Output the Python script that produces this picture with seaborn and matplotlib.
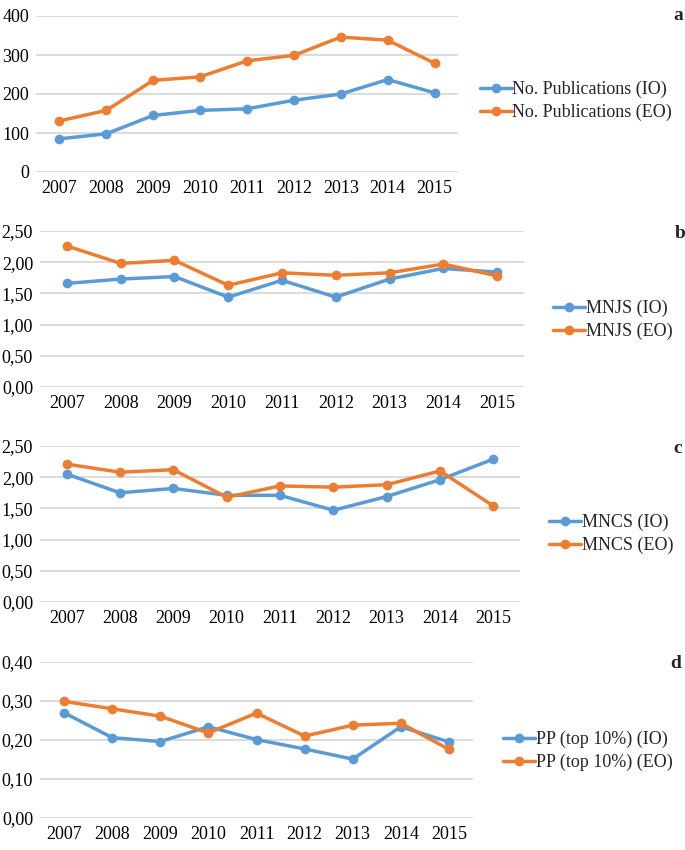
import matplotlib
matplotlib.use('Agg')
import matplotlib.pyplot as plt
import seaborn as sns
import pandas as pd
from matplotlib.ticker import FuncFormatter

years = ['2007', '2008', '2009', '2010', '2011', '2012', '2013', '2014', '2015']

pubs_io = [85, 98, 145, 158, 162, 184, 200, 237, 203]
pubs_eo = [131, 158, 235, 244, 285, 299, 346, 338, 279]

mnjs_io = [1.66, 1.73, 1.77, 1.44, 1.71, 1.44, 1.73, 1.90, 1.84]
mnjs_eo = [2.26, 1.98, 2.03, 1.63, 1.83, 1.79, 1.83, 1.97, 1.78]

mncs_io = [2.05, 1.75, 1.82, 1.71, 1.71, 1.47, 1.69, 1.96, 2.29]
mncs_eo = [2.21, 2.08, 2.12, 1.68, 1.86, 1.84, 1.88, 2.10, 1.54]

pp_io = [0.270, 0.206, 0.196, 0.234, 0.201, 0.177, 0.151, 0.234, 0.195]
pp_eo = [0.299, 0.280, 0.261, 0.218, 0.269, 0.210, 0.238, 0.243, 0.176]

BLUE = '#5B9BD5'
ORANGE = '#ED7D31'
W, H = 685, 850
FS = 13

sns.set_theme(style='white')
plt.rcParams['font.family'] = ['Liberation Serif', 'DejaVu Serif']
plt.rcParams['font.size'] = FS

fig = plt.figure(figsize=(W / 100, H / 100), dpi=100)

# (io, eo, name, ymax, ystep, decimals, axes box px, legend line start px, legend y px, letter, letter pos)
panels = [
    (pubs_io, pubs_eo, 'No. Publications', 400, 100, 0, (36, 458, 16, 172), 480, 101, 'a', (678, 16)),
    (mnjs_io, mnjs_eo, 'MNJS', 2.5, 0.5, 2, (40, 524, 231, 387), 553, 320, 'b', (680, 233)),
    (mncs_io, mncs_eo, 'MNCS', 2.5, 0.5, 2, (40, 520, 446, 602), 549, 534, 'c', (678, 448)),
    (pp_io, pp_eo, 'PP (top 10%)', 0.4, 0.1, 2, (40, 473, 662, 818), 503, 751, 'd', (676, 663)),
]

for io, eo, name, ymax, ystep, dec, box, leg_x, leg_y, letter, lpos in panels:
    x0, x1, y0, y1 = box
    ax = fig.add_axes([x0 / W, 1 - y1 / H, (x1 - x0) / W, (y1 - y0) / H])
    df = pd.DataFrame({'year': years, 'io': io, 'eo': eo})
    sns.lineplot(data=df, x='year', y='io', ax=ax, color=BLUE, linewidth=2.5,
                 marker='o', markersize=7, markeredgewidth=0, label=f'{name} (IO)', sort=False)
    sns.lineplot(data=df, x='year', y='eo', ax=ax, color=ORANGE, linewidth=2.5,
                 marker='o', markersize=7, markeredgewidth=0, label=f'{name} (EO)', sort=False)
    ax.set_xlim(-0.5, len(years) - 0.5)
    ax.set_ylim(0, ymax)
    n = int(round(ymax / ystep))
    ax.set_yticks([i * ystep for i in range(n + 1)])
    if dec == 0:
        ax.yaxis.set_major_formatter(FuncFormatter(lambda v, p: f'{v:.0f}'))
    else:
        ax.yaxis.set_major_formatter(FuncFormatter(lambda v, p: f'{v:.2f}'.replace('.', ',')))
    ax.grid(axis='y', color='#D9D9D9', linewidth=1.3)
    ax.grid(axis='x', visible=False)
    ax.set_axisbelow(True)
    for line in ax.get_lines():
        line.set_clip_on(False)
    for s in ax.spines.values():
        s.set_visible(False)
    ax.tick_params(axis='both', length=0, labelsize=FS, colors='black')
    ax.tick_params(axis='y', pad=5)
    ax.tick_params(axis='x', pad=6)
    ax.set_xlabel('')
    ax.set_ylabel('')
    ax.legend(loc='center left', bbox_to_anchor=(leg_x / W, 1 - leg_y / H),
              bbox_transform=fig.transFigure, frameon=False, handlelength=1.75,
              handletextpad=0.05, labelspacing=0.3, borderpad=0, borderaxespad=0,
              fontsize=FS)
    fig.text(lpos[0] / W, 1 - lpos[1] / H, letter, ha='center', va='center',
             fontsize=14, fontweight='bold')

fig.savefig('out.png', dpi=100, facecolor='white')
